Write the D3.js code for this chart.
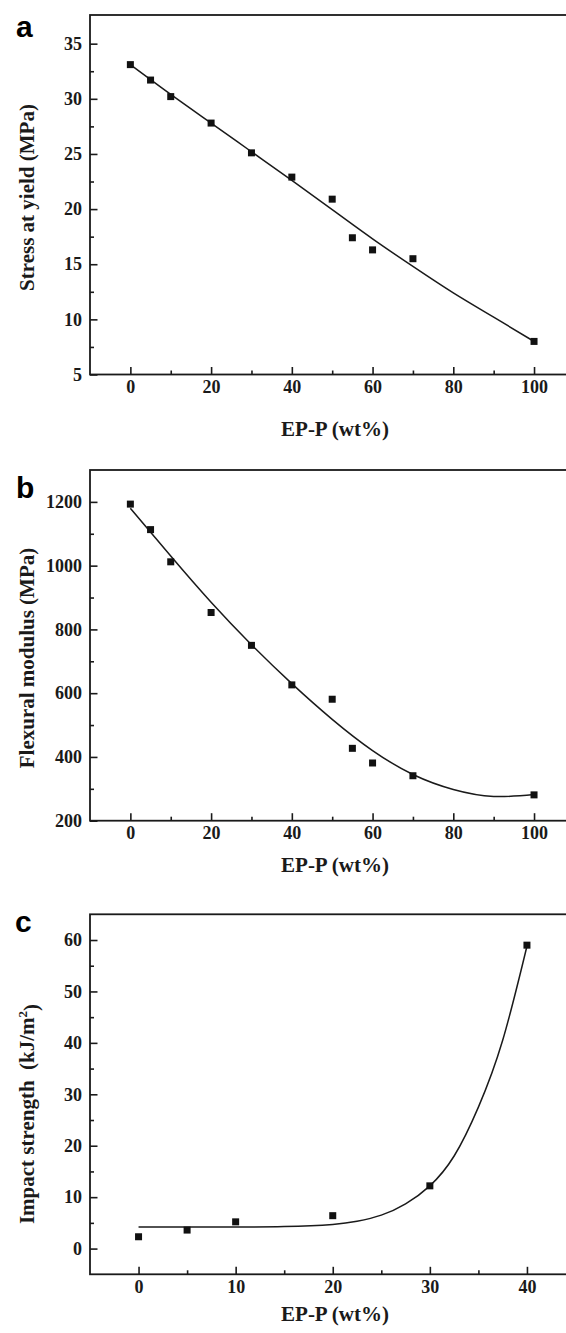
<!DOCTYPE html>
<html>
<head>
<meta charset="utf-8">
<script src="https://cdn.jsdelivr.net/npm/d3@7"></script>
<style>
  html, body { margin: 0; padding: 0; background: #fff; }
  svg { display: block; }
</style>
</head>
<body>
<svg id="chart" width="566" height="1333"></svg>
<script>
// ---- Measured values: EP-P content (wt%) vs. mechanical properties ----

// (a) Stress at yield
const epContentA = [0, 5, 10, 20, 30, 40, 50, 55, 60, 70, 100];
const stressAtYield = [33.1, 31.7, 30.2, 27.8, 25.1, 22.9, 20.9, 17.4, 16.3, 15.5, 8.0];
const fitXA = [0, 10, 20, 30, 40, 50, 60, 70, 80, 90, 100];
const fitStress = [33.1, 30.4, 27.8, 25.2, 22.6, 19.95, 17.3, 14.8, 12.4, 10.2, 8.0];

// (b) Flexural modulus
const epContentB = [0, 5, 10, 20, 30, 40, 50, 55, 60, 70, 100];
const flexuralModulus = [1193, 1113, 1012, 853, 750, 626, 581, 427, 381, 341, 281];
const fitXB = [0, 10, 20, 30, 40, 50, 60, 70, 80, 90, 100];
const fitModulus = [1180, 1030, 885, 752, 630, 518, 420, 345, 298, 276, 282];

// (c) Impact strength
const epContentC = [0, 5, 10, 20, 30, 40];
const impactStrength = [2.3, 3.6, 5.2, 6.4, 12.2, 59.0];
const fitXC = [0, 5, 10, 15, 20, 22.5, 25, 27.5, 30, 32.5, 35, 37.5, 40];
const fitImpact = [4.2, 4.2, 4.2, 4.3, 4.7, 5.3, 6.5, 8.7, 12.2, 18.0, 27.5, 40.5, 58.8];

// Tick values
const xMajorAB = [0, 20, 40, 60, 80, 100];
const xMinorAB = [10, 30, 50, 70, 90];
const yMajorA = [5, 10, 15, 20, 25, 30, 35];
const yMinorA = [7.5, 12.5, 17.5, 22.5, 27.5, 32.5];
const yMajorB = [200, 400, 600, 800, 1000, 1200];
const yMinorB = [300, 500, 700, 900, 1100];
const xMajorC = [0, 10, 20, 30, 40];
const xMinorC = [5, 15, 25, 35];
const yMajorC = [0, 10, 20, 30, 40, 50, 60];
const yMinorC = [5, 15, 25, 35, 45, 55];

const xTitle = "EP-P (wt%)";

// ---- Panel layout ----
const svg = d3.select("#chart");
const serif = "'Liberation Serif', 'Times New Roman', serif";
const sans = "'Liberation Sans', Arial, sans-serif";
const ink = "#1a1a1a";

const panels = [
  {
    letter: "a", letterPos: [16, 37],
    top: 15, bottom: 374.5, left: 90, right: 574.4,
    xDomain: [-10, 110], yDomain: [5, 37.6],
    xMajor: xMajorAB, xMinor: xMinorAB, yMajor: yMajorA, yMinor: yMinorA,
    px: epContentA, py: stressAtYield, fx: fitXA, fy: fitStress,
    yTitle: [{ t: "Stress at yield (MPa)" }], yTitleCenter: 197.5,
    xTitleBaseline: 436
  },
  {
    letter: "b", letterPos: [16, 498],
    top: 470, bottom: 820.7, left: 90, right: 574.4,
    xDomain: [-10, 110], yDomain: [200, 1300],
    xMajor: xMajorAB, xMinor: xMinorAB, yMajor: yMajorB, yMinor: yMinorB,
    px: epContentB, py: flexuralModulus, fx: fitXB, fy: fitModulus,
    yTitle: [{ t: "Flexural modulus (MPa)" }], yTitleCenter: 658,
    xTitleBaseline: 872
  },
  {
    letter: "c", letterPos: [15, 932],
    top: 914.3, bottom: 1274.3, left: 90, right: 575.5,
    xDomain: [-5, 45], yDomain: [-5, 65],
    xMajor: xMajorC, xMinor: xMinorC, yMajor: yMajorC, yMinor: yMinorC,
    px: epContentC, py: impactStrength, fx: fitXC, fy: fitImpact,
    yTitle: [{ t: "Impact strength\u00A0\u00A0(kJ/m" }, { t: "2", sup: true }, { t: ")" }],
    yTitleCenter: 1114,
    xTitleBaseline: 1321
  }
];

panels.forEach(p => {
  const x = d3.scaleLinear().domain(p.xDomain).range([p.left, p.right]);
  const y = d3.scaleLinear().domain(p.yDomain).range([p.bottom, p.top]);
  const g = svg.append("g");

  // Inward-pointing ticks on the bottom and left axes
  const majorLen = 7.5, minorLen = 4;
  const xAxis = d3.axisBottom(x).tickValues(p.xMajor).tickSize(-majorLen)
    .tickPadding(6).tickSizeOuter(0).tickFormat(d3.format("d"));
  const xMinorAxis = d3.axisBottom(x).tickValues(p.xMinor).tickSize(-minorLen)
    .tickSizeOuter(0).tickFormat("");
  const yAxis = d3.axisLeft(y).tickValues(p.yMajor).tickSize(-majorLen)
    .tickPadding(8).tickSizeOuter(0).tickFormat(d3.format("d"));
  const yMinorAxis = d3.axisLeft(y).tickValues(p.yMinor).tickSize(-minorLen)
    .tickSizeOuter(0).tickFormat("");

  [xAxis, xMinorAxis].forEach(ax => {
    g.append("g").attr("transform", `translate(0,${p.bottom})`).call(ax);
  });
  [yAxis, yMinorAxis].forEach(ax => {
    g.append("g").attr("transform", `translate(${p.left},0)`).call(ax);
  });

  g.selectAll(".domain").remove();
  g.selectAll(".tick line").attr("stroke", ink).attr("stroke-width", 1.6);
  g.selectAll(".tick text")
    .attr("fill", ink)
    .style("font-family", serif)
    .style("font-weight", "bold")
    .style("font-size", "18px");

  // Plot frame (its right edge runs past the page)
  g.append("rect")
    .attr("x", p.left).attr("y", p.top)
    .attr("width", p.right - p.left).attr("height", p.bottom - p.top)
    .attr("fill", "none").attr("stroke", ink).attr("stroke-width", 1.8);

  // Fitted curve
  const fit = p.fx.map((v, i) => [v, p.fy[i]]);
  g.append("path")
    .datum(fit)
    .attr("fill", "none")
    .attr("stroke", ink)
    .attr("stroke-width", 1.5)
    .attr("d", d3.line().x(d => x(d[0])).y(d => y(d[1])).curve(d3.curveNatural));

  // Measured points
  const s = 7;
  g.selectAll("rect.pt")
    .data(p.px.map((v, i) => [v, p.py[i]]))
    .join("rect")
    .attr("class", "pt")
    .attr("x", d => x(d[0]) - s / 2)
    .attr("y", d => y(d[1]) - s / 2)
    .attr("width", s).attr("height", s)
    .attr("fill", "#111");

  // Axis titles
  g.append("text")
    .attr("x", 335).attr("y", p.xTitleBaseline)
    .attr("text-anchor", "middle")
    .attr("fill", ink)
    .style("font-family", serif).style("font-weight", "bold").style("font-size", "21px")
    .text(xTitle);

  const yt = g.append("text")
    .attr("transform", `translate(34,${p.yTitleCenter}) rotate(-90)`)
    .attr("text-anchor", "middle")
    .attr("fill", ink)
    .style("font-family", serif).style("font-weight", "bold").style("font-size", "21px");
  p.yTitle.forEach(part => {
    const ts = yt.append("tspan").text(part.t);
    if (part.sup) ts.attr("dy", "-0.55em").style("font-size", "13px");
    else if (yt.selectAll("tspan").size() > 1) ts.attr("dy", "0.55em");
  });

  // Panel letter
  g.append("text")
    .attr("x", p.letterPos[0]).attr("y", p.letterPos[1])
    .attr("fill", "#000")
    .style("font-family", sans).style("font-weight", "bold").style("font-size", "30px")
    .text(p.letter);
});
</script>
</body>
</html>
